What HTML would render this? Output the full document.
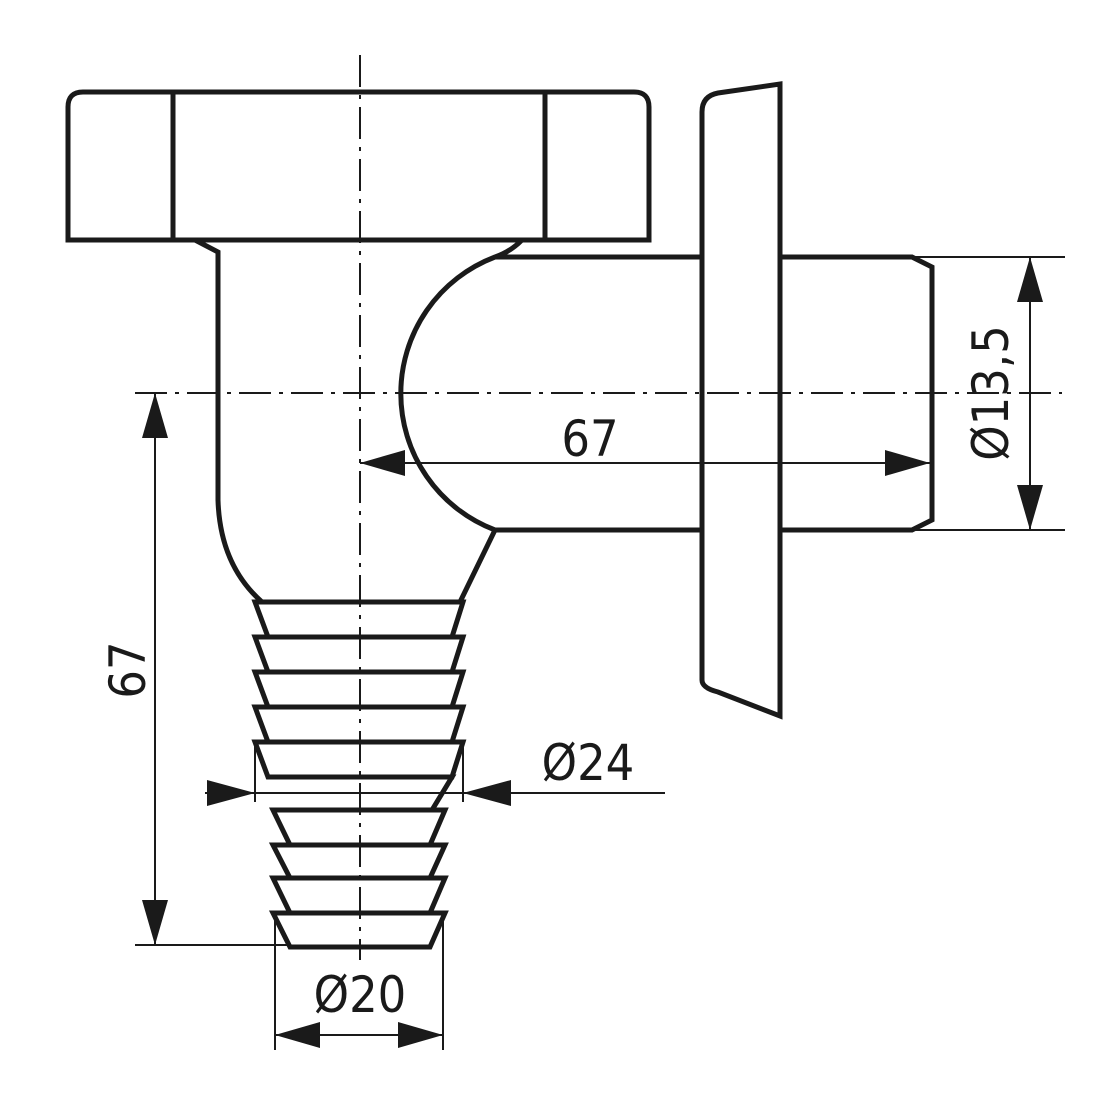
<!DOCTYPE html>
<html><head><style>html,body{margin:0;padding:0;background:#fff}svg{display:block}</style></head><body>
<svg width="1100" height="1100" viewBox="0 0 1100 1100" xmlns="http://www.w3.org/2000/svg">
<g fill="none" stroke="#1a1a1a" stroke-width="5" stroke-linejoin="miter">
<path d="M68,240 L68,107 Q68,92 83,92 L634,92 Q649,92 649,107 L649,240 Z"/>
<line x1="173" y1="92" x2="173" y2="240"/>
<line x1="545" y1="92" x2="545" y2="240"/>
<path d="M195,240 L218,252 L218,500 Q220,565 262,602"/>
<path d="M522,240 Q510,252 495,257 A146,146 0 0 0 495,530 L460,602"/>
<line x1="495" y1="257" x2="702" y2="257"/>
<line x1="495" y1="530" x2="702" y2="530"/>
<path d="M702,680 L702,112 Q702,96 718,93 L780,84 L780,716 L718,692 Q702,688 702,680 Z"/>
<path d="M780,257 L912,257 L932,267 L932,520 L912,530 L780,530"/>
<path d="M255,602 L463,602 L452,637 L268,637 Z"/>
<path d="M255,637 L463,637 L452,672 L268,672 Z"/>
<path d="M255,672 L463,672 L452,707 L268,707 Z"/>
<path d="M255,707 L463,707 L452,742 L268,742 Z"/>
<path d="M255,742 L463,742 L452,777 L268,777 Z"/>
<path d="M268,777 L452,777 L432,810 L288,810"/>
<path d="M273,810 L445,810 L430,845 L290,845 Z"/>
<path d="M273,845 L445,845 L430,878 L290,878 Z"/>
<path d="M273,878 L445,878 L430,913 L290,913 Z"/>
<path d="M273,913 L445,913 L430,947 L290,947 Z"/>
</g>
<g fill="none" stroke="#1a1a1a" stroke-width="2" stroke-dasharray="32,8,4,8">
<line x1="360" y1="55" x2="360" y2="960"/>
<line x1="135" y1="393" x2="1062" y2="393"/>
</g>
<g fill="none" stroke="#1a1a1a" stroke-width="2">
<line x1="360" y1="463" x2="930" y2="463"/>
<line x1="912" y1="257" x2="1065" y2="257"/>
<line x1="912" y1="530" x2="1065" y2="530"/>
<line x1="1030" y1="257" x2="1030" y2="530"/>
<line x1="155" y1="393" x2="155" y2="945"/>
<line x1="135" y1="945" x2="290" y2="945"/>
<line x1="255" y1="745" x2="255" y2="802"/>
<line x1="463" y1="745" x2="463" y2="802"/>
<line x1="205" y1="793" x2="665" y2="793"/>
<line x1="275" y1="915" x2="275" y2="1050"/>
<line x1="443" y1="915" x2="443" y2="1050"/>
<line x1="275" y1="1035" x2="443" y2="1035"/>
</g>
<g fill="#1a1a1a">
<polygon points="360,463 405,450 405,476"/>
<polygon points="930,463 885,450 885,476"/>
<polygon points="1030,257 1017,302 1043,302"/>
<polygon points="1030,530 1017,485 1043,485"/>
<polygon points="155,393 142,438 168,438"/>
<polygon points="155,945 142,900 168,900"/>
<polygon points="255,793 207,780 207,806"/>
<polygon points="463,793 511,780 511,806"/>
<polygon points="275,1035 320,1022 320,1048"/>
<polygon points="443,1035 398,1022 398,1048"/>
</g>
<g font-family="'DejaVu Sans Condensed','Liberation Sans',sans-serif" font-size="50" fill="#1a1a1a" text-anchor="middle">
<text x="590" y="456">67</text>
<text x="588" y="780">Ø24</text>
<text x="360" y="1012">Ø20</text>
<text transform="translate(1008,393) rotate(-90)">Ø13,5</text>
<text transform="translate(145,670) rotate(-90)">67</text>
</g>
</svg>
</body></html>
